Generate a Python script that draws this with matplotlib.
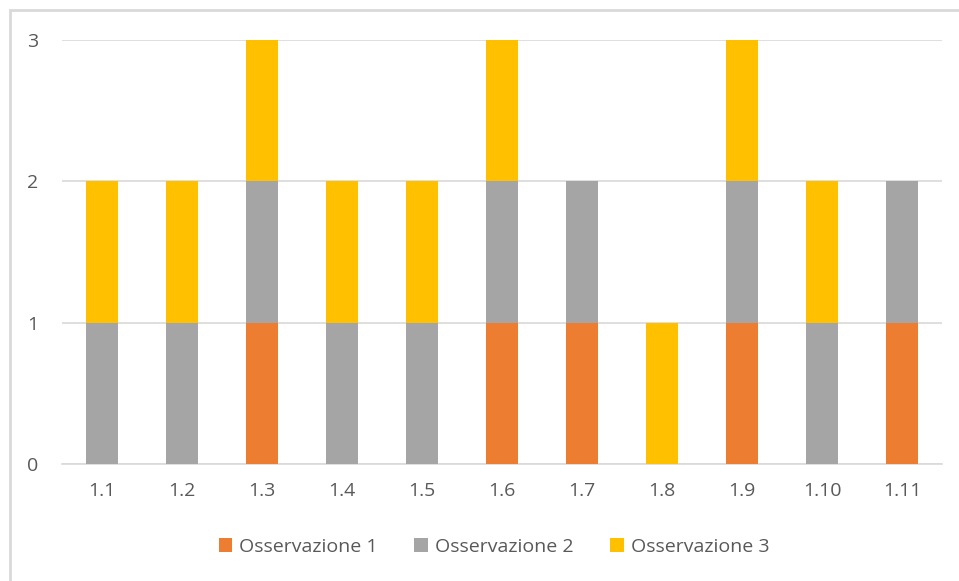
import matplotlib.pyplot as plt
import numpy as np
from matplotlib.patches import Rectangle

# ==========================================================
# DATI
# ==========================================================

categorie = ["1.1", "1.2", "1.3", "1.4", "1.5", "1.6", "1.7", "1.8", "1.9", "1.10", "1.11"]

oss1 = [0, 0, 1, 0, 0, 1, 1, 0, 1, 0, 1]
oss2 = [1, 1, 1, 1, 1, 1, 1, 0, 1, 1, 1]
oss3 = [1, 1, 1, 1, 1, 1, 0, 1, 1, 1, 0]

nomi = ["Osservazione 1", "Osservazione 2", "Osservazione 3"]
colori = ["#ED7D31", "#A5A5A5", "#FFC000"]

plt.rcParams["font.family"] = ["Open Sans", "DejaVu Sans"]

# ==========================================================
# GRAFICO
# ==========================================================

fig = plt.figure(figsize=(9.59, 5.81), dpi=100)
ax = fig.add_axes([62 / 959, 117 / 581, 880 / 959, 424 / 581])

x = np.arange(len(categorie))
base = np.zeros(len(categorie))

for serie, nome, colore in zip([oss1, oss2, oss3], nomi, colori):
    ax.bar(x, serie, width=0.4, bottom=base, color=colore, label=nome, zorder=3)
    base = base + np.array(serie)

ax.set_xlim(-0.5, len(categorie) - 0.5)
ax.set_ylim(0, 3)
ax.set_yticks([0, 1, 2, 3])
ax.set_xticks(x)
ax.set_xticklabels(categorie)

ax.grid(axis="y", color="#D9D9D9", linewidth=1.2, zorder=0)
for lato in ["top", "right", "left"]:
    ax.spines[lato].set_visible(False)
ax.spines["bottom"].set_color("#D9D9D9")
ax.spines["bottom"].set_linewidth(1.2)

ax.tick_params(axis="both", length=0, colors="#595959", labelsize=14)
ax.tick_params(axis="y", pad=17)
ax.tick_params(axis="x", pad=13)

# bordo del riquadro
fig.patches.append(Rectangle((10 / 959, -0.1), 2, 571 / 581 + 0.1,
                             transform=fig.transFigure, fill=False,
                             edgecolor="#D9D9D9", linewidth=2))

fig.legend(loc="center", bbox_to_anchor=(494 / 959, 1 - 547 / 581), ncol=3,
           frameon=False, fontsize=14, labelcolor="#595959",
           handlelength=0.7, handleheight=0.7, handletextpad=0.35,
           columnspacing=1.9)

fig.savefig("out.png", dpi=100)
